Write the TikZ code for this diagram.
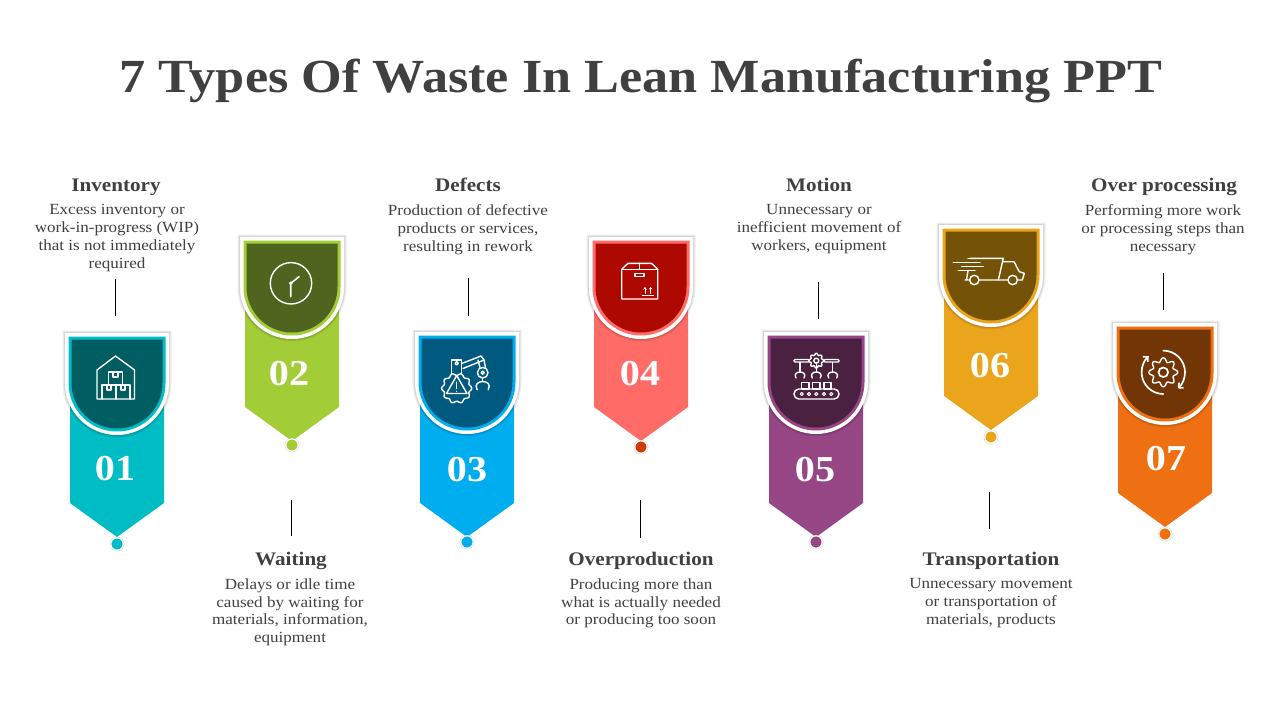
\documentclass[tikz,border=0pt]{standalone}
\usepackage{fontspec}
\usetikzlibrary{arrows.meta}
\setmainfont{Liberation Serif}[FakeStretch=1.1]

\definecolor{inkgray}{HTML}{404040}
\definecolor{tealA}{HTML}{00BCC4}   \definecolor{tealB}{HTML}{005E63}
\definecolor{greenA}{HTML}{A2CD36}  \definecolor{greenB}{HTML}{4F651F}
\definecolor{blueA}{HTML}{00AEEF}   \definecolor{blueB}{HTML}{005A7F}
\definecolor{coralA}{HTML}{FF6B67}  \definecolor{coralB}{HTML}{AD0900}
\definecolor{purpleA}{HTML}{964585} \definecolor{purpleB}{HTML}{4A2140}
\definecolor{amberA}{HTML}{EBA51C}  \definecolor{amberB}{HTML}{745208}
\definecolor{orangeA}{HTML}{EF7012} \definecolor{orangeB}{HTML}{723606}
\definecolor{dotred}{HTML}{CC3D00}

\tikzset{
    heading/.style={text=inkgray,inner sep=0pt,anchor=base,font=\fontsize{19.2}{22}\selectfont\bfseries},
    descr/.style={text=inkgray,inner sep=0pt,anchor=north,align=center,font=\fontsize{15.5}{17.7}\selectfont},
    number/.style={text=white,inner sep=0pt,font=\fontsize{36.5}{40}\selectfont\bfseries},
    tick/.style={draw=black,line width=0.9pt},
    iconline/.style={draw=white,line width=1.4pt,line join=round,line cap=round},
}

% shield: x centre, top of the outer shape, half width
\newcommand{\shieldpath}[3]{(#1-#3,#2+52-#3) -- (#1+#3,#2+52-#3) -- (#1+#3,#2+50) arc (0:180:#3) -- cycle}
% toothed wheel: x, y, mean radius, tooth height, teeth
\newcommand{\gearicon}[5]{\draw[iconline,shift={(#1,#2)}] plot[domain=0:360,samples=97] (\x:{#3+#4*cos(#5*\x)}) -- cycle;}
% claw: x, y, half width
\newcommand{\clawicon}[3]{\draw[iconline] (#1-#3,#2+1.5*#3) .. controls (#1-1.6*#3,#2+0.5*#3) and (#1-0.75*#3,#2) .. (#1,#2) .. controls (#1+0.75*#3,#2) and (#1+1.6*#3,#2+0.5*#3) .. (#1+#3,#2+1.5*#3);}

\begin{document}
\begin{tikzpicture}[x=1pt,y=-1pt]
    \useasboundingbox (0,0) rectangle (1280,720);

    \node[text=inkgray,inner sep=0pt,font=\fontsize{47.5}{52}\selectfont\bfseries] (title) at (641,81) {7 Types Of Waste In Lean Manufacturing PPT};

    \foreach \nm/\cx/\ty/\tail/\dy/\cl/\dk/\dc/\num/\nx/\ny in {
        one/117/333/503/544/tealA/tealB/tealA/01/115/469,
        two/292/237/407/445/greenA/greenB/greenA/02/289/374,
        three/467/332/503/542/blueA/blueB/blueA/03/467/470,
        four/641/237/407/447/coralA/coralB/dotred/04/640/374,
        five/816/332/503/542/purpleA/purpleB/purpleA/05/815/470,
        six/991/225/396/437/amberA/amberB/amberA/06/990/366,
        seven/1165/323/493/534/orangeA/orangeB/orangeA/07/1166/459}{
        \fill[\cl] (\cx-47,\ty+60) -- (\cx+47,\ty+60) -- (\cx+47,\tail) -- (\cx,\tail+34) -- (\cx-47,\tail) -- cycle;
        \draw[black,opacity=.07,line width=5pt] \shieldpath{\cx}{\ty}{52};
        \draw[black,opacity=.10,line width=2.5pt] \shieldpath{\cx}{\ty}{52};
        \fill[white] \shieldpath{\cx}{\ty}{52};
        \fill[\cl] \shieldpath{\cx}{\ty}{48.5};
        \fill[\dk] \shieldpath{\cx}{\ty}{45.5};
        \node[number] (num\nm) at (\nx,\ny) {\num};
        \fill[black,opacity=.15] (\cx,\dy) circle (7.4);
        \node[circle,fill=\dc,draw=white,line width=1.2pt,minimum size=12.4pt,inner sep=0pt] (dot\nm) at (\cx,\dy) {};
    }

    % warehouse
    \draw[iconline] (97,370) -- (115.5,356) -- (134.5,370) -- (134.5,399) -- (97,399) -- cycle;
    \draw[iconline] (102,399) -- (102,385) -- (130,385) -- (130,399) (116,385) -- (116,399);
    \draw[iconline] (108.5,385) -- (108.5,372) -- (122.5,372) -- (122.5,385);
    \draw[iconline] (113,372) -- (113,377) -- (118,377) -- (118,372);
    \draw[iconline] (107,385) -- (107,390) -- (111,390) -- (111,385) (121,385) -- (121,390) -- (125,390) -- (125,385);

    % clock
    \draw[iconline] (291,283.3) circle (20.7);
    \fill[white] (290.7,283.3) circle (1.9);
    \draw[iconline,line width=1.6pt] (299,276.7) -- (290.7,283.3) -- (290.7,296.7);

    % robot arm and gear
    \gearicon{456.7}{388.3}{14}{1.1}{10}
    \draw[iconline] (456.7,375.5) -- (467,393.5) -- (446.5,393.5) -- cycle;
    \draw[iconline] (456.7,382) -- (456.7,388.5) (456.7,391.3) -- (456.7,391.4);
    \draw[iconline] (451.7,374.5) -- (451.7,360) -- (461.7,360) -- (461.7,374.5);
    \draw[iconline] (456.7,363.3) circle (1.7);
    \draw[iconline] (461.7,363.5) -- (481,356) -- (484,360) -- (463,368.5);
    \draw[iconline] (478,360) -- (480,367.5) (484,360) -- (485.5,367.5);
    \draw[iconline] (482.7,372.7) circle (5.3) (482.7,372.7) circle (1.6);
    \draw[iconline] (482.7,378) -- (482.7,381);
    \clawicon{482.7}{381.5}{5.5}

    % box
    \draw[iconline] (621.7,269.3) -- (628,263.3) -- (651.5,263.3) -- (657.7,269.3) -- (657.7,299) -- (621.7,299) -- cycle;
    \draw[iconline] (621.7,269.3) -- (657.7,269.3) (639.3,263.3) -- (639.3,269.3);
    \draw[iconline] (635,273.2) rectangle (644,276.2);
    \draw[iconline,line width=1pt,-{Stealth[length=2.5pt,width=3.5pt]}] (645,293.3) -- (645,287);
    \draw[iconline,line width=1pt,-{Stealth[length=2.5pt,width=3.5pt]}] (650.7,293.3) -- (650.7,287);
    \draw[iconline,line width=1pt] (642.3,295.7) -- (653.3,295.7);

    % conveyor
    \gearicon{816.3}{360.7}{6.5}{0.9}{8}
    \draw[iconline] (816.3,360.7) circle (2.5);
    \draw[iconline,rounded corners=1pt] (794,359.5) rectangle (809,362);
    \draw[iconline,rounded corners=1pt] (824,359.5) rectangle (839,362);
    \foreach \cw in {800,816.3,832.7}{
        \draw[iconline] (\cw,362.5) -- (\cw,372);
        \clawicon{\cw}{372}{4}
    }
    \draw[iconline] (801.7,389) rectangle (809,382.3) (812.7,389) rectangle (820,382.3) (824,389) rectangle (831,382.3);
    \draw[iconline,rounded corners=4.8pt] (794,389) rectangle (839,399);
    \foreach \rl in {801.7,809,816.3,824,831.3}{
        \draw[iconline,line width=1pt] (\rl,394) circle (1.6);
    }

    % truck
    \draw[iconline] (970,258.3) -- (1003.3,258.3) -- (998.3,280);
    \draw[iconline] (1003.3,261.7) -- (1014,261.7) -- (1019.3,271.7) -- (1024.3,273.3) -- (1022.3,280) -- (1018,280);
    \draw[iconline] (979,280) -- (1008,280) (965,280) -- (969.6,280) (968,270.7) -- (966.5,280);
    \draw[iconline] (974.3,280) circle (4.7) (1012.7,280) circle (4.7);
    \draw[iconline] (953.3,262.7) -- (980,262.7) (961.7,266.7) -- (983.3,266.7) (958.3,270.7) -- (975,270.7) (968,258.3) -- (977,258.3);

    % gear and arrows
    \gearicon{1163.3}{372.3}{12.5}{2}{8}
    \draw[iconline,line width=1.7pt] (1163.3,372.3) circle (4.8);
    \draw[iconline,line width=1.7pt,-{Straight Barb[length=3.5pt,width=7pt]}] (1163.3,350.6) arc (270:408:21.7);
    \draw[iconline,line width=1.7pt,-{Straight Barb[length=3.5pt,width=7pt]}] (1163.3,394) arc (90:228:21.7);

    % top and bottom labels
    \node[heading] (headone) at (116,191) {Inventory};
    \node[descr] (descone) at (117,204.5) {Excess inventory or\\work-in-progress (WIP)\\that is not immediately\\required};
    \node[heading] (headtwo) at (291,565) {Waiting};
    \node[descr] (desctwo) at (290,578.5) {Delays or idle time\\caused by waiting for\\materials, information,\\equipment};
    \node[heading] (headthree) at (468,191) {Defects};
    \node[descr] (descthree) at (468,204.5) {Production of defective\\products or services,\\resulting in rework};
    \node[heading] (headfour) at (641,565) {Overproduction};
    \node[descr] (descfour) at (641,578.5) {Producing more than\\what is actually needed\\or producing too soon};
    \node[heading] (headfive) at (819,191) {Motion};
    \node[descr] (descfive) at (819,204.5) {Unnecessary or\\inefficient movement of\\workers, equipment};
    \node[heading] (headsix) at (991,565) {Transportation};
    \node[descr] (descsix) at (991,578.5) {Unnecessary movement\\or transportation of\\materials, products};
    \node[heading] (headseven) at (1164,191) {Over processing};
    \node[descr] (descseven) at (1163,204.5) {Performing more work\\or processing steps than\\necessary};

    \coordinate (tickAa) at (115,279);   \coordinate (tickAb) at (115,316);
    \coordinate (tickBa) at (291,500);   \coordinate (tickBb) at (291,536);
    \coordinate (tickCa) at (468,278);   \coordinate (tickCb) at (468,316);
    \coordinate (tickDa) at (640,500);   \coordinate (tickDb) at (640,538);
    \coordinate (tickEa) at (818,282);   \coordinate (tickEb) at (818,319);
    \coordinate (tickFa) at (989,492);   \coordinate (tickFb) at (989,529);
    \coordinate (tickGa) at (1163,273);  \coordinate (tickGb) at (1163,310);
    \foreach \tk in {A,B,C,D,E,F,G}{
        \draw[tick] (tick\tk a) -- (tick\tk b);
    }
\end{tikzpicture}
\end{document}
